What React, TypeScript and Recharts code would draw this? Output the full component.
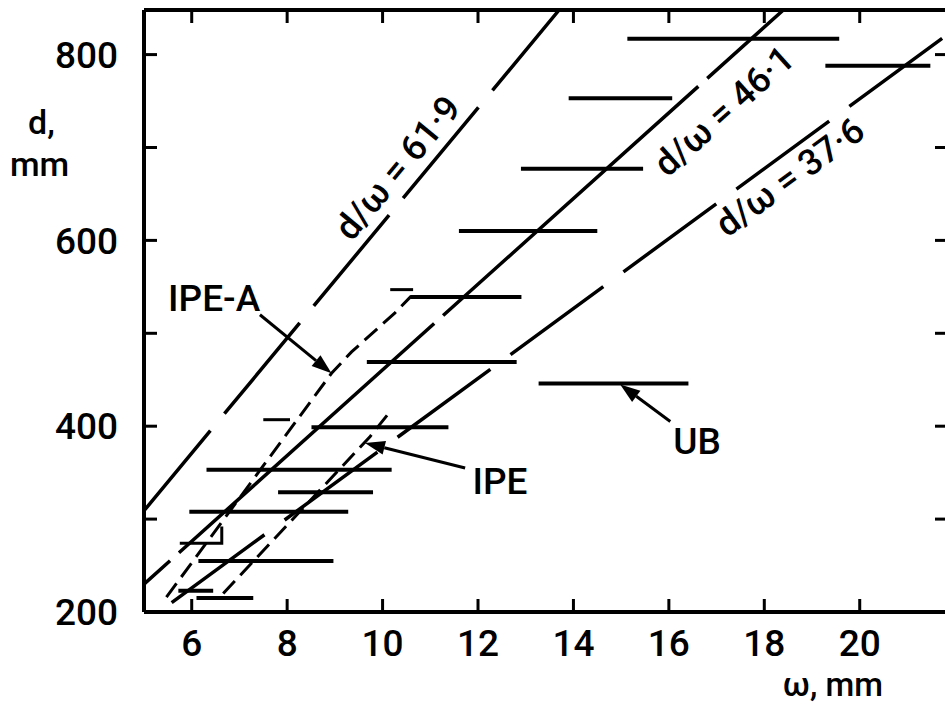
import React from "react";
import {
  ComposedChart,
  Line,
  XAxis,
  YAxis,
  ReferenceLine,
  ReferenceDot,
} from "recharts";

const FONT = "Roboto, 'DejaVu Sans', sans-serif";
const INK = "#000";

const xTicks = [6, 8, 10, 12, 14, 16, 18, 20];
const yLabelTicks = [200, 400, 600, 800];
const yMarkTicks = [300, 400, 500, 600, 700, 800];

// d/ω = const lines, end points
const line619 = [
  { w: 5, d: 309 },
  { w: 13.7, d: 848 },
];
const line461 = [
  { w: 5, d: 230 },
  { w: 18.4, d: 848 },
];
const line376 = [
  { w: 5.58, d: 210 },
  { w: 21.85, d: 822 },
];

// short-dash curves
const ipeACurve = [
  { w: 5.47, d: 216 },
  { w: 8.93, d: 457 },
  { w: 9.35, d: 480 },
  { w: 10.26, d: 522 },
  { w: 10.6, d: 540 },
];
const ipeCurve = [
  { w: 6.66, d: 220 },
  { w: 9.74, d: 389 },
  { w: 10.1, d: 412 },
];

// horizontal bars: depth d and range of ω
const barD = [817, 788, 753, 677, 610, 539, 469, 446, 399, 353, 329, 308, 255, 223, 215];
const barFrom = [15.13, 19.28, 13.9, 12.9, 11.6, 10.58, 9.67, 13.27, 8.51, 6.31, 7.81, 5.95, 6.14, 5.72, 6.1];
const barTo = [19.57, 21.48, 16.07, 15.46, 14.5, 12.91, 12.81, 16.41, 11.38, 10.19, 9.8, 9.28, 8.97, 6.45, 7.29];

// short marks
const markD = [547, 407];
const markFrom = [10.16, 7.5];
const markTo = [10.64, 8.06];
const hook = [
  { w: 5.75, d: 274 },
  { w: 6.63, d: 274 },
  { w: 6.63, d: 292 },
];

const ratioText = ["d/ω = 61·9", "d/ω = 46·1", "d/ω = 37·6"];
const ratioW = [10.32, 17.16, 18.54];
const ratioD = [678, 739, 668];
const ratioAngle = [-50.3, -41.9, -36.2];

const noteText = ["IPE-A", "IPE", "UB"];
const noteW = [6.47, 12.46, 16.59];
const noteD = [537, 340, 384];
const arrowFrom = [
  { w: 7.43, d: 520 },
  { w: 11.73, d: 355 },
  { w: 16.03, d: 405 },
];
const arrowTo = [
  { w: 8.93, d: 457 },
  { w: 9.63, d: 382 },
  { w: 14.98, d: 445 },
];

const X_DOMAIN: [number, number] = [5, 21.85];
const Y_DOMAIN: [number, number] = [200, 848];

// tick lines only, no label
const NoLabel = () => <g />;

const textShape = (label: string, angle: number, size: number) => (p: any) => (
  <text
    x={p.cx}
    y={p.cy}
    transform={`rotate(${angle} ${p.cx} ${p.cy})`}
    textAnchor="middle"
    dominantBaseline="central"
    fontSize={size}
    fontFamily={FONT}
    fontWeight={500}
    fill={INK}
  >
    {label}
  </text>
);

const Arrow = (p: any) => {
  const { x1, y1, x2, y2 } = p;
  const a = Math.atan2(y2 - y1, x2 - x1);
  const len = 20;
  const half = 7;
  const bx = x2 - len * Math.cos(a);
  const by = y2 - len * Math.sin(a);
  const pts = [
    `${x2},${y2}`,
    `${bx + half * Math.sin(a)},${by - half * Math.cos(a)}`,
    `${bx - half * Math.sin(a)},${by + half * Math.cos(a)}`,
  ].join(" ");
  return (
    <g>
      <line x1={x1} y1={y1} x2={bx} y2={by} stroke={INK} strokeWidth={3} />
      <polygon points={pts} fill={INK} />
    </g>
  );
};

const App = () => {
  return (
    <div
      style={{
        position: "absolute",
        left: 0,
        top: 0,
        width: 945,
        height: 706,
        overflow: "hidden",
        background: "#fff",
      }}
    >
      <ComposedChart
        width={960}
        height={706}
        margin={{ top: 10, right: 12, bottom: 0, left: 0 }}
      >
        <XAxis
          dataKey="w"
          type="number"
          domain={X_DOMAIN}
          allowDataOverflow
          ticks={xTicks}
          interval={0}
          height={94}
          tickLine={false}
          tickSize={0}
          tickMargin={18}
          axisLine={{ stroke: INK, strokeWidth: 4 }}
          tick={{ fill: INK, fontSize: 37, fontFamily: FONT, fontWeight: 500 }}
        />
        <XAxis
          xAxisId="bottomIn"
          dataKey="w"
          type="number"
          domain={X_DOMAIN}
          allowDataOverflow
          ticks={xTicks}
          interval={0}
          mirror
          tick={NoLabel}
          tickSize={13}
          axisLine={false}
          tickLine={{ stroke: INK, strokeWidth: 3 }}
        />
        <XAxis
          xAxisId="top"
          orientation="top"
          dataKey="w"
          type="number"
          domain={X_DOMAIN}
          allowDataOverflow
          ticks={xTicks}
          interval={0}
          mirror
          tick={NoLabel}
          tickSize={13}
          axisLine={{ stroke: INK, strokeWidth: 4 }}
          tickLine={{ stroke: INK, strokeWidth: 3 }}
        />
        <YAxis
          type="number"
          domain={Y_DOMAIN}
          allowDataOverflow
          ticks={yLabelTicks}
          interval={0}
          width={144}
          tickLine={false}
          tickSize={0}
          tickMargin={26}
          axisLine={{ stroke: INK, strokeWidth: 4 }}
          tick={{ fill: INK, fontSize: 37, fontFamily: FONT, fontWeight: 500 }}
        />
        <YAxis
          yAxisId="leftIn"
          type="number"
          domain={Y_DOMAIN}
          allowDataOverflow
          ticks={yMarkTicks}
          interval={0}
          mirror
          tick={NoLabel}
          tickSize={13}
          axisLine={false}
          tickLine={{ stroke: INK, strokeWidth: 3 }}
        />
        <YAxis
          yAxisId="right"
          orientation="right"
          type="number"
          domain={Y_DOMAIN}
          allowDataOverflow
          ticks={yMarkTicks}
          interval={0}
          mirror
          tick={NoLabel}
          tickSize={13}
          axisLine={false}
          tickLine={{ stroke: INK, strokeWidth: 3 }}
        />

        <Line
          data={line619}
          dataKey="d"
          stroke={INK}
          strokeWidth={3.5}
          strokeDasharray="118 22"
          strokeDashoffset={14}
          dot={false}
          isAnimationActive={false}
        />
        <Line
          data={line461}
          dataKey="d"
          stroke={INK}
          strokeWidth={3.5}
          strokeDasharray="343 12"
          strokeDashoffset={308}
          dot={false}
          isAnimationActive={false}
        />
        <Line
          data={line376}
          dataKey="d"
          stroke={INK}
          strokeWidth={3.5}
          strokeDasharray="115 25"
          dot={false}
          isAnimationActive={false}
        />
        <Line
          data={ipeACurve}
          dataKey="d"
          stroke={INK}
          strokeWidth={3}
          strokeDasharray="17 8"
          dot={false}
          isAnimationActive={false}
        />
        <Line
          data={ipeCurve}
          dataKey="d"
          stroke={INK}
          strokeWidth={3}
          strokeDasharray="17 8"
          dot={false}
          isAnimationActive={false}
        />
        {barD.map((d, i) => (
          <Line
            key={`bar-${i}`}
            data={[
              { w: barFrom[i], d },
              { w: barTo[i], d },
            ]}
            dataKey="d"
            stroke={INK}
            strokeWidth={4}
            dot={false}
            isAnimationActive={false}
          />
        ))}
        {markD.map((d, i) => (
          <Line
            key={`mark-${i}`}
            data={[
              { w: markFrom[i], d },
              { w: markTo[i], d },
            ]}
            dataKey="d"
            stroke={INK}
            strokeWidth={3}
            dot={false}
            isAnimationActive={false}
          />
        ))}
        <Line
          data={hook}
          dataKey="d"
          stroke={INK}
          strokeWidth={3}
          dot={false}
          isAnimationActive={false}
        />

        {ratioText.map((t, i) => (
          <ReferenceDot
            key={`ratio-${i}`}
            x={ratioW[i]}
            y={ratioD[i]}
            shape={textShape(t, ratioAngle[i], 36)}
          />
        ))}
        {noteText.map((t, i) => (
          <ReferenceDot
            key={`note-${i}`}
            x={noteW[i]}
            y={noteD[i]}
            shape={textShape(t, 0, 37)}
          />
        ))}
        {arrowFrom.map((a, i) => (
          <ReferenceLine
            key={`arrow-${i}`}
            segment={[
              { x: a.w, y: a.d },
              { x: arrowTo[i].w, y: arrowTo[i].d },
            ]}
            shape={Arrow}
          />
        ))}
      </ComposedChart>

      <svg
        width={945}
        height={706}
        style={{ position: "absolute", left: 0, top: 0, pointerEvents: "none" }}
      >
        <g fontFamily={FONT} fontWeight={500} fill={INK}>
          <text x={28} y={134} fontSize={34}>
            d,
          </text>
          <text x={10} y={176} fontSize={34}>
            mm
          </text>
          <text x={883} y={696} fontSize={33} textAnchor="end">
            ω, mm
          </text>
        </g>
      </svg>
    </div>
  );
};

export default App;
